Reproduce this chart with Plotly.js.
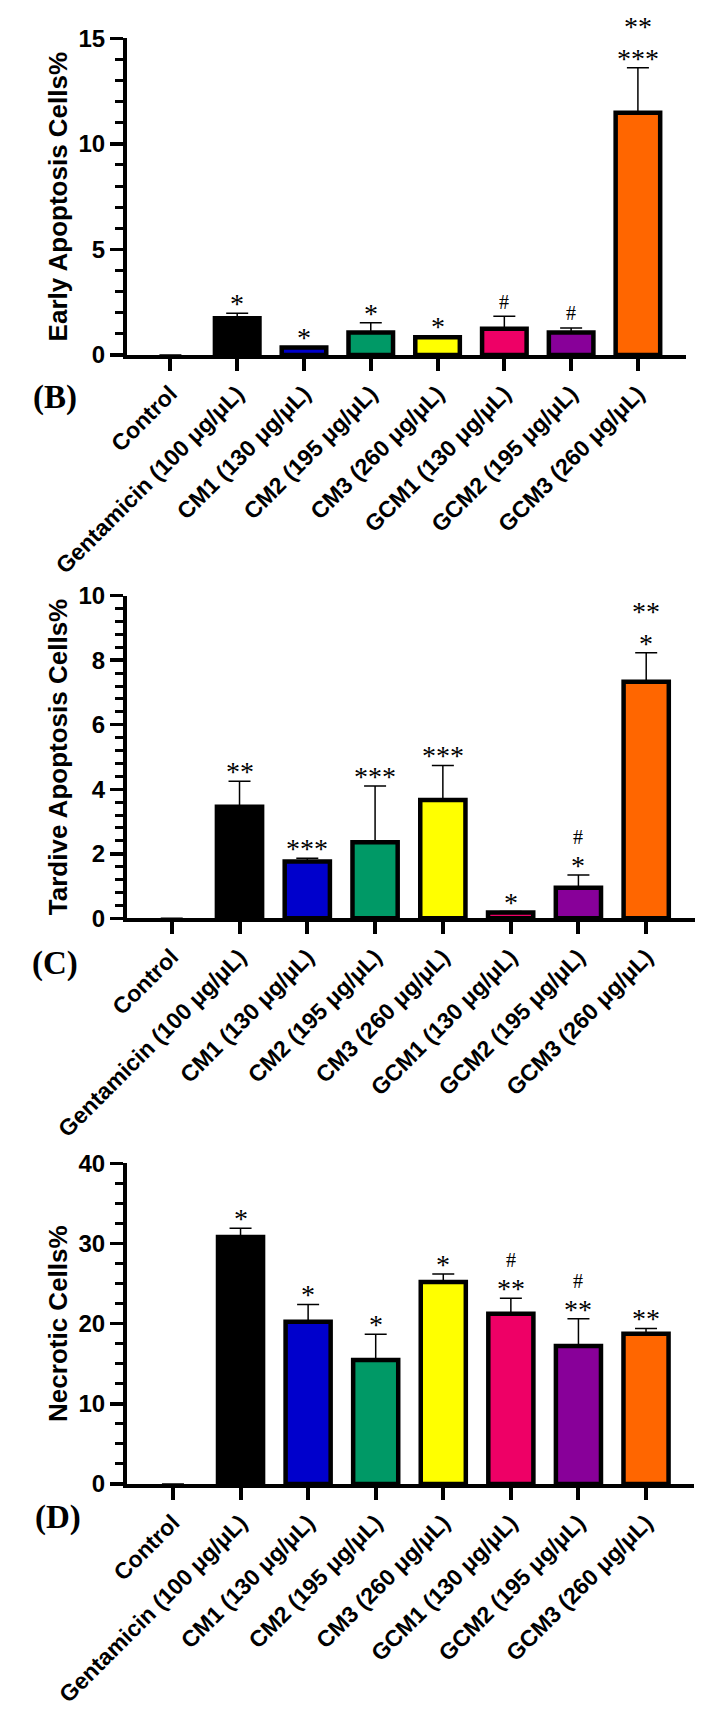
<!DOCTYPE html>
<html>
<head>
<meta charset="utf-8">
<script src="https://cdn.plot.ly/plotly-3.0.1.min.js"></script>
<style>html,body{margin:0;padding:0;background:#fff;}#chart{width:713px;height:1721px;}</style>
</head>
<body>
<div id="chart"></div>
<script>
// ---- data ----
const categories = ["Control", "Gentamicin (100 μg/μL)", "CM1 (130 μg/μL)", "CM2 (195 μg/μL)", "CM3 (260 μg/μL)", "GCM1 (130 μg/μL)", "GCM2 (195 μg/μL)", "GCM3 (260 μg/μL)"];
const barColors = ["#000000", "#000000", "#0000CC", "#009966", "#FFFF00", "#EE0066", "#880099", "#FF6600"];

const earlyValues = [0, 1.74, 0.35, 1.06, 0.84, 1.24, 1.06, 11.47];
const earlyErrors = [0, 0.24, 0.04, 0.47, 0.06, 0.60, 0.22, 2.13];
const earlySig = [[], ["*"], ["*"], ["*"], ["*"], ["#"], ["#"], ["**", "***"]];

const tardiveValues = [0, 3.46, 1.76, 2.36, 3.67, 0.18, 0.95, 7.33];
const tardiveErrors = [0, 0.79, 0.10, 1.74, 1.07, 0.03, 0.39, 0.90];
const tardiveSig = [[], ["**"], ["***"], ["***"], ["***"], ["*"], ["#", "*"], ["**", "*"]];

const necroticValues = [0, 30.8, 20.25, 15.47, 25.2, 21.25, 17.2, 18.75];
const necroticErrors = [0, 1.1, 2.15, 3.2, 1.0, 1.91, 3.4, 0.65];
const necroticSig = [[], ["*"], ["*"], ["*"], ["*"], ["#", "**"], ["#", "**"], ["**"]];

const yTitles = ["Early Apoptosis Cells%", "Tardive Apoptosis Cells%", "Necrotic Cells%"];
const panelLetters = ["(B)", "(C)", "(D)"];

// ---- layout helpers ----
const W = 713, H = 1721;
const panels = [
  {vals: earlyValues, errs: earlyErrors, sig: earlySig, title: yTitles[0], letter: panelLetters[0],
   px: [127, 686], py: [38.3, 355], range: [0, 15], dtick: 5, minor: 1, xr: [-0.65, 7.72], letterPos: [55, 397]},
  {vals: tardiveValues, errs: tardiveErrors, sig: tardiveSig, title: yTitles[1], letter: panelLetters[1],
   px: [127, 695], py: [595.7, 918.3], range: [0, 10], dtick: 2, minor: 0.4, xr: [-0.66, 7.72], letterPos: [55, 963]},
  {vals: necroticValues, errs: necroticErrors, sig: necroticSig, title: yTitles[2], letter: panelLetters[2],
   px: [127, 694], py: [1163.3, 1484], range: [0, 40], dtick: 10, minor: 2.5, xr: [-0.68, 7.71], letterPos: [58, 1517]}
];

const sans = "Arial, 'Liberation Sans', sans-serif";
const serif = "'Times New Roman', 'Liberation Serif', serif";
const STAR_PX = 28, HASH_PX = 20;

const data = [];
const layout = {
  width: W, height: H,
  margin: {l: 0, r: 0, t: 0, b: 0},
  paper_bgcolor: "#fff", plot_bgcolor: "rgba(0,0,0,0)",
  showlegend: false,
  annotations: []
};

panels.forEach((p, i) => {
  const n = i === 0 ? "" : String(i + 1);
  const xa = "x" + n, ya = "y" + n;
  data.push({
    type: "bar", x: categories, y: p.vals, xaxis: xa, yaxis: ya,
    width: 0.667,
    marker: {color: barColors, line: {color: "#000", width: p.vals.map(v => v === 0 ? 0 : 4.5)}},
    error_y: {type: "data", symmetric: false, array: p.errs.map(e => e === 0 ? NaN : e),
              arrayminus: p.vals.map(() => 0),
              color: "#000", thickness: 1.5, width: 11},
    hoverinfo: "skip"
  });
  layout["xaxis" + n] = {
    domain: [p.px[0] / W, p.px[1] / W], anchor: ya, type: "category", range: p.xr,
    showline: true, linecolor: "#000", linewidth: 4,
    ticks: "outside", ticklen: 12, tickwidth: 4, tickcolor: "#000",
    tickangle: -45, tickfont: {family: sans, size: 23, color: "#000", weight: "bold"},
    showgrid: false, zeroline: false, fixedrange: true
  };
  layout["yaxis" + n] = {
    domain: [1 - p.py[1] / H, 1 - p.py[0] / H], anchor: xa, range: p.range, dtick: p.dtick,
    showline: true, linecolor: "#000", linewidth: 4,
    ticks: "outside", ticklen: 13, tickwidth: 3.5, tickcolor: "#000",
    minor: {ticks: "outside", dtick: p.minor, ticklen: 8, tickwidth: 3, tickcolor: "#000"},
    tickfont: {family: sans, size: 24, color: "#000", weight: "bold"},
    title: {text: p.title, font: {family: sans, size: 26, color: "#000", weight: "bold"}, standoff: 4},
    showgrid: false, zeroline: false, fixedrange: true
  };
  // significance marks: one annotation per bar, lines stacked
  p.sig.forEach((lines, k) => {
    if (!lines.length) return;
    const top = p.vals[k] + p.errs[k];
    const hasHash = lines.some(l => l.indexOf("#") >= 0);
    const bottomIsHash = lines[lines.length - 1].indexOf("#") >= 0;
    const text = lines.map(l => {
      const sz = l.indexOf("#") >= 0 ? HASH_PX : STAR_PX;
      return '<span style="font-size:' + sz + 'px">' + l + '</span>';
    }).join("<br>");
    layout.annotations.push({
      xref: xa, yref: ya, x: categories[k], y: top,
      text: text,
      showarrow: false, xanchor: "center", yanchor: "bottom",
      yshift: bottomIsHash ? 1.5 : -8,
      font: {family: serif, size: hasHash ? 23.5 : 24.5, color: "#000"}
    });
  });
  layout.annotations.push({
    xref: "paper", yref: "paper", x: p.letterPos[0] / W, y: 1 - p.letterPos[1] / H,
    xanchor: "center", yanchor: "middle", showarrow: false, text: p.letter,
    font: {family: serif, size: 33, color: "#000", weight: "bold"}
  });
});

Plotly.newPlot("chart", data, layout, {staticPlot: true, displayModeBar: false});
</script>
</body>
</html>
